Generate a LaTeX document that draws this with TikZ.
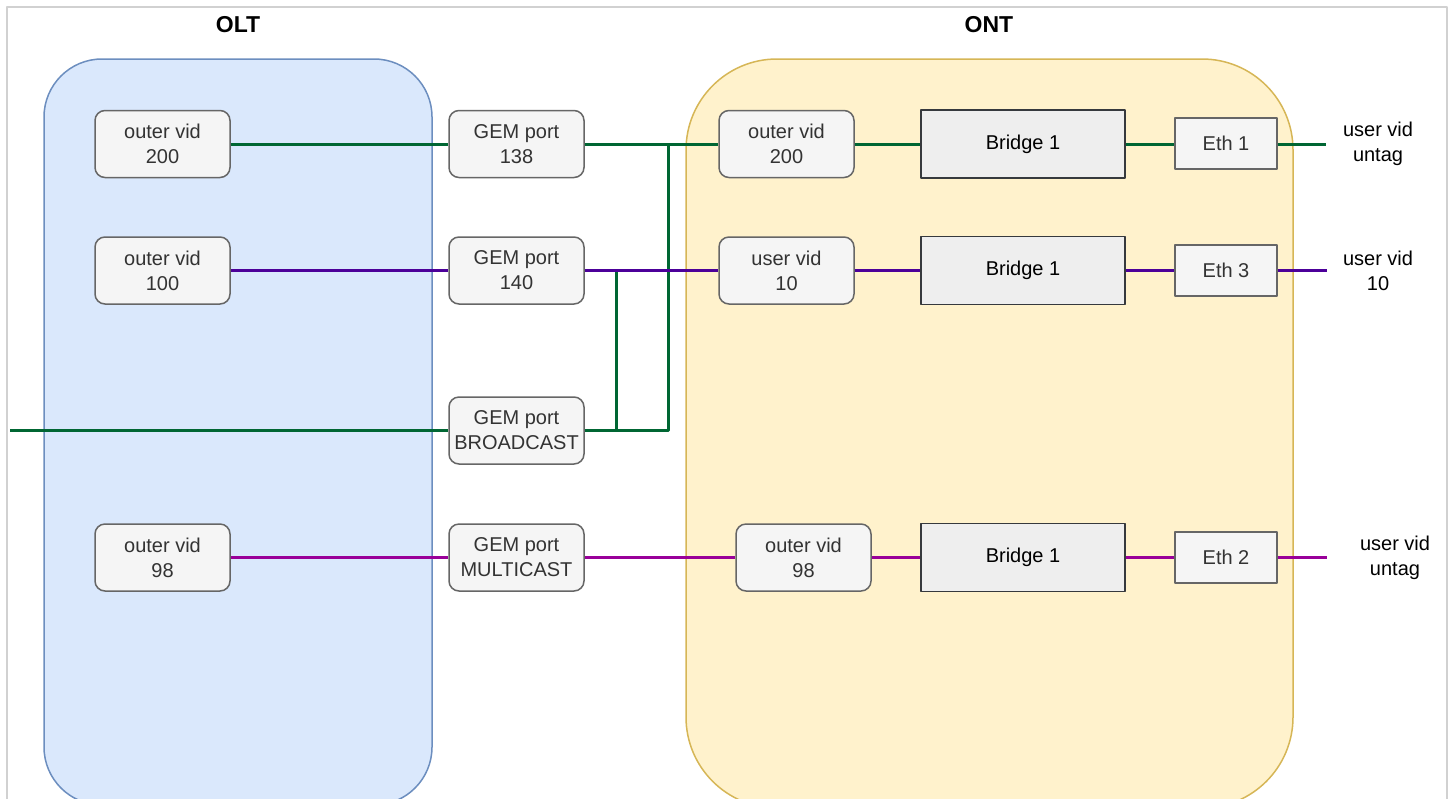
\documentclass[tikz,border=0pt]{standalone}
\usepackage{fontspec}
\setmainfont{Liberation Sans}
\definecolor{oltfill}{HTML}{DAE8FC}
\definecolor{oltline}{HTML}{6C8EBF}
\definecolor{ontfill}{HTML}{FFF2CC}
\definecolor{ontline}{HTML}{D6B656}
\definecolor{boxfill}{HTML}{F5F5F5}
\definecolor{boxline}{HTML}{666666}
\definecolor{boxtext}{HTML}{333333}
\definecolor{brfill}{HTML}{EEEEEE}
\definecolor{brline}{HTML}{36393D}
\definecolor{lgreen}{HTML}{006633}
\definecolor{lpurple}{HTML}{4C0099}
\definecolor{lmagenta}{HTML}{990099}
\begin{document}
\begin{tikzpicture}[x=0.5pt, y=-0.5pt, font=\fontsize{10}{12.5}\selectfont, line join=round]
	\tikzset{
	vid/.style={draw=boxline, fill=boxfill, text=boxtext, rounded corners=5pt, line width=0.75pt, minimum width=67.5pt, minimum height=33.5pt, align=center, inner sep=0pt},
	bridge/.style={draw=brline, fill=brfill, line width=0.75pt, minimum width=102pt, minimum height=34pt, inner sep=0pt},
	eth/.style={draw=boxline, fill=boxfill, text=boxtext, line width=0.75pt, minimum width=51pt, minimum height=25.5pt, inner sep=0pt},
	title/.style={font=\bfseries\fontsize{11.5}{14}\selectfont},
	user/.style={align=center},
	gline/.style={draw=lgreen, line width=1.5pt},
	pline/.style={draw=lpurple, line width=1.5pt},
	mline/.style={draw=lmagenta, line width=1.5pt}
	}
	\useasboundingbox (0,0) rectangle (1454,798);
	\clip (0,0) rectangle (1454,798);
	\draw[black!18, line width=0.6pt] (7,7) rectangle (1447,840);
	\draw[fill=oltfill, draw=oltline, line width=0.75pt, rounded corners=29pt] (44,59) rectangle (432,805);
	\draw[fill=ontfill, draw=ontline, line width=0.75pt, rounded corners=45.5pt] (686,59) rectangle (1293,808);
	\node[title] (olt) at (238,25) {OLT};
	\node[title] (ont) at (989,25) {ONT};
	\node[vid] (ov200) at (162.5,144) {outer vid\\200};
	\node[vid] (ov100) at (162.5,270.5) {outer vid\\100};
	\node[vid] (ov98) at (162.5,557.5) {outer vid\\98};
	\node[vid] (gem138) at (516.5,144) {GEM port\\138};
	\node[vid] (gem140) at (516.5,270.5) {GEM port\\140};
	\node[vid] (gembc) at (516.5,430.5) {GEM port\\BROADCAST};
	\node[vid] (gemmc) at (516.5,557.5) {GEM port\\MULTICAST};
	\node[vid] (nv200) at (786.5,144) {outer vid\\200};
	\node[vid] (uv10) at (786.5,270.5) {user vid\\10};
	\node[vid] (nv98) at (803.5,557.5) {outer vid\\98};
	\node[bridge] (br1) at (1023,144) {Bridge 1};
	\node[bridge] (br2) at (1023,270.5) {Bridge 1};
	\node[bridge] (br3) at (1023,557.5) {Bridge 1};
	\node[eth] (eth1) at (1226,143.5) {Eth 1};
	\node[eth] (eth3) at (1226,270.5) {Eth 3};
	\node[eth] (eth2) at (1226,557.5) {Eth 2};
	\node[user] (u1) at (1378,144) {user vid\\untag};
	\node[user] (u3) at (1378,270.5) {user vid\\10};
	\node[user] (u2) at (1395,557.5) {user vid\\untag};
	\coordinate (inbc) at (10,430.5);
	\coordinate (j1) at (616,270.5);
	\coordinate (j2) at (668,144);
	\coordinate (o1) at (1326,144);
	\coordinate (o3) at (1327,270.5);
	\coordinate (o2) at (1327,557.5);
	\draw[gline] (ov200) -- (gem138);
	\draw[gline] (gem138) -- (nv200);
	\draw[gline] (nv200) -- (br1);
	\draw[gline] (br1) -- (eth1.west |- br1);
	\draw[gline] (eth1.east |- o1) -- (o1);
	\draw[gline] (inbc) -- (gembc);
	\draw[gline] (gembc) -| (j2);
	\draw[gline] (gembc.east -| j1) -- (j1);
	\draw[pline] (ov100) -- (gem140);
	\draw[pline] (gem140) -- (uv10);
	\draw[pline] (uv10) -- (br2);
	\draw[pline] (br2) -- (eth3);
	\draw[pline] (eth3) -- (o3);
	\draw[mline] (ov98) -- (gemmc);
	\draw[mline] (gemmc) -- (nv98);
	\draw[mline] (nv98) -- (br3);
	\draw[mline] (br3) -- (eth2);
	\draw[mline] (eth2) -- (o2);
\end{tikzpicture}
\end{document}
